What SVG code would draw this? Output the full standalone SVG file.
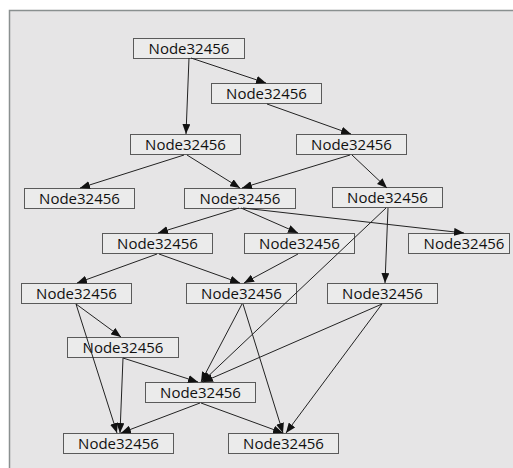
<svg xmlns="http://www.w3.org/2000/svg" width="513" height="468" viewBox="0 0 513 468">
<defs>
<style>
.n rect{fill:#ebebeb;stroke:#5a5a5a;stroke-width:1}
.n text{font-family:"Open Sans","Noto Sans","Liberation Sans",sans-serif;font-size:15px;fill:#111;text-anchor:middle}
.e line{stroke:#222;stroke-width:1;marker-end:url(#ah)}
</style>
<marker id="ah" viewBox="0 0 10 8" refX="10" refY="4" markerWidth="10" markerHeight="8" markerUnits="userSpaceOnUse" orient="auto">
<path d="M0,0 L10,4 L0,8 Z" fill="#111"/>
</marker>
</defs>
<rect x="0" y="0" width="513" height="468" fill="#ffffff"/>
<rect x="9.5" y="10.5" width="510" height="470" fill="#e6e5e6" stroke="#8a9090" stroke-width="1.5"/>
<g id="n1" class="n"><rect x="133.5" y="38.5" width="111" height="20"/><text x="189" y="54">Node32456</text></g>
<g id="n2" class="n"><rect x="211.5" y="83.5" width="110" height="20"/><text x="266.5" y="99">Node32456</text></g>
<g id="n3" class="n"><rect x="130.5" y="134.5" width="110" height="20"/><text x="185.5" y="150">Node32456</text></g>
<g id="n4" class="n"><rect x="296.5" y="134.5" width="110" height="20"/><text x="351.5" y="150">Node32456</text></g>
<g id="n5" class="n"><rect x="24.5" y="188.5" width="110" height="20"/><text x="79.5" y="204">Node32456</text></g>
<g id="n6" class="n"><rect x="184.5" y="188.5" width="111" height="20"/><text x="240" y="204">Node32456</text></g>
<g id="n7" class="n"><rect x="332.5" y="187.5" width="110" height="20"/><text x="387.5" y="203">Node32456</text></g>
<g id="n8" class="n"><rect x="102.5" y="233.5" width="110" height="20"/><text x="157.5" y="249">Node32456</text></g>
<g id="n9" class="n"><rect x="244.5" y="233.5" width="110" height="20"/><text x="299.5" y="249">Node32456</text></g>
<g id="n10" class="n"><rect x="408.5" y="233.5" width="101" height="20"/><text x="464" y="249">Node32456</text></g>
<g id="n11" class="n"><rect x="21.5" y="283.5" width="110" height="20"/><text x="76.5" y="299">Node32456</text></g>
<g id="n12" class="n"><rect x="186.5" y="283.5" width="110" height="20"/><text x="241.5" y="299">Node32456</text></g>
<g id="n13" class="n"><rect x="327.5" y="283.5" width="110" height="20"/><text x="382.5" y="299">Node32456</text></g>
<g id="n14" class="n"><rect x="67.5" y="337.5" width="111" height="20"/><text x="123" y="353">Node32456</text></g>
<g id="n15" class="n"><rect x="145.5" y="382.5" width="110" height="20"/><text x="200.5" y="398">Node32456</text></g>
<g id="n16" class="n"><rect x="63.5" y="433.5" width="110" height="20"/><text x="118.5" y="449">Node32456</text></g>
<g id="n17" class="n"><rect x="228.5" y="433.5" width="110" height="20"/><text x="283.5" y="449">Node32456</text></g>
<g id="edges" class="e">
<line x1="189" y1="58" x2="186" y2="134"/>
<line x1="191" y1="58" x2="266" y2="83"/>
<line x1="267" y1="104" x2="351" y2="134"/>
<line x1="184" y1="155" x2="80" y2="188"/>
<line x1="187" y1="155" x2="240" y2="188"/>
<line x1="350" y1="155" x2="242" y2="188"/>
<line x1="352" y1="155" x2="387" y2="188"/>
<line x1="239" y1="208" x2="158" y2="233"/>
<line x1="241" y1="208" x2="298" y2="233"/>
<line x1="243" y1="208" x2="464" y2="233"/>
<line x1="388" y1="208" x2="385" y2="283"/>
<line x1="386" y1="208" x2="202" y2="382"/>
<line x1="157" y1="254" x2="77" y2="283"/>
<line x1="159" y1="254" x2="240" y2="283"/>
<line x1="298" y1="254" x2="244" y2="283"/>
<line x1="76" y1="304" x2="121" y2="337"/>
<line x1="76" y1="304" x2="117" y2="433"/>
<line x1="242" y1="304" x2="201" y2="382"/>
<line x1="243" y1="304" x2="283" y2="433"/>
<line x1="382" y1="304" x2="203" y2="382"/>
<line x1="382" y1="304" x2="286" y2="433"/>
<line x1="123" y1="358" x2="120" y2="433"/>
<line x1="123" y1="358" x2="198" y2="382"/>
<line x1="200" y1="403" x2="121" y2="433"/>
<line x1="201" y1="403" x2="283" y2="433"/>
</g>
</svg>
